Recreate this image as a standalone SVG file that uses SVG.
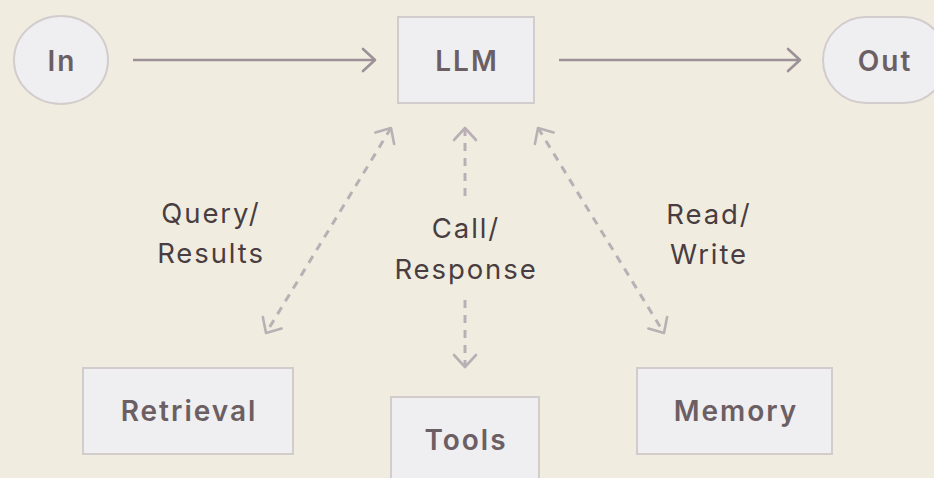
<svg xmlns="http://www.w3.org/2000/svg" width="934" height="478" viewBox="0 0 934 478">
  <defs>
    <marker id="solidHead" viewBox="-14 -14 16 28" markerWidth="16" markerHeight="28" refX="0" refY="0" orient="auto-start-reverse" markerUnits="userSpaceOnUse">
      <path d="M-12,-11 L0,0 L-12,11" fill="none" stroke="#9c9196" stroke-width="2.6" stroke-linecap="round" stroke-linejoin="round"/>
    </marker>
    <marker id="dashHead" viewBox="-14 -14 16 28" markerWidth="16" markerHeight="28" refX="0" refY="0" orient="auto-start-reverse" markerUnits="userSpaceOnUse">
      <path d="M-12,-11 L0,0 L-12,11" fill="none" stroke="#b9b0b5" stroke-width="2.6" stroke-linecap="round" stroke-linejoin="round"/>
    </marker>
  </defs>
  <style>
    .node { fill: #efeef0; stroke: #d2cccd; stroke-width: 2; }
    .ntext { font-family: Inter, "Noto Sans", sans-serif; font-weight: 600; font-size: 28px; fill: #6c5f64; text-anchor: middle; letter-spacing: 2px; }
    .label { font-family: Inter, "Noto Sans", sans-serif; font-weight: 400; font-size: 27.5px; fill: #4a3d42; text-anchor: middle; letter-spacing: 1.9px; }
    .solid { fill: none; stroke: #9c9196; stroke-width: 2.6; }
    .dashed { fill: none; stroke: #b9b0b5; stroke-width: 3; stroke-dasharray: 8 7; }
  </style>
  <rect x="0" y="0" width="934" height="478" fill="#f0ede0"/>

  <g id="connectors">
    <path class="solid" d="M133,60 L375,60" marker-end="url(#solidHead)"/>
    <path class="solid" d="M559,60 L800,60" marker-end="url(#solidHead)"/>
    <path class="dashed" d="M391,128 L266,333" marker-start="url(#dashHead)" marker-end="url(#dashHead)"/>
    <path class="dashed" d="M465,128 L465,196" marker-start="url(#dashHead)"/>
    <path class="dashed" d="M465,300 L465,367" marker-end="url(#dashHead)"/>
    <path class="dashed" d="M538,128 L664,333" marker-start="url(#dashHead)" marker-end="url(#dashHead)"/>
    <text class="label" x="211" y="223">Query/</text>
    <text class="label" x="211" y="263">Results</text>
    <text class="label" x="466" y="238">Call/</text>
    <text class="label" x="466" y="279">Response</text>
    <text class="label" x="709" y="224">Read/</text>
    <text class="label" x="709" y="264">Write</text>
  </g>

  <g id="in">
    <ellipse class="node" cx="61" cy="60" rx="47" ry="44"/>
    <text class="ntext" x="62" y="71">In</text>
  </g>
  <g id="llm">
    <rect class="node" x="398" y="17" width="136" height="86"/>
    <text class="ntext" x="467" y="71">LLM</text>
  </g>
  <g id="out">
    <rect class="node" x="823" y="17" width="124" height="86" rx="43" ry="43"/>
    <text class="ntext" x="885" y="71">Out</text>
  </g>
  <g id="retrieval">
    <rect class="node" x="83" y="368" width="210" height="86"/>
    <text class="ntext" x="189" y="421">Retrieval</text>
  </g>
  <g id="tools">
    <rect class="node" x="391" y="397" width="148" height="92"/>
    <text class="ntext" x="466" y="450">Tools</text>
  </g>
  <g id="memory">
    <rect class="node" x="637" y="368" width="195" height="86"/>
    <text class="ntext" x="736" y="421">Memory</text>
  </g>
</svg>
